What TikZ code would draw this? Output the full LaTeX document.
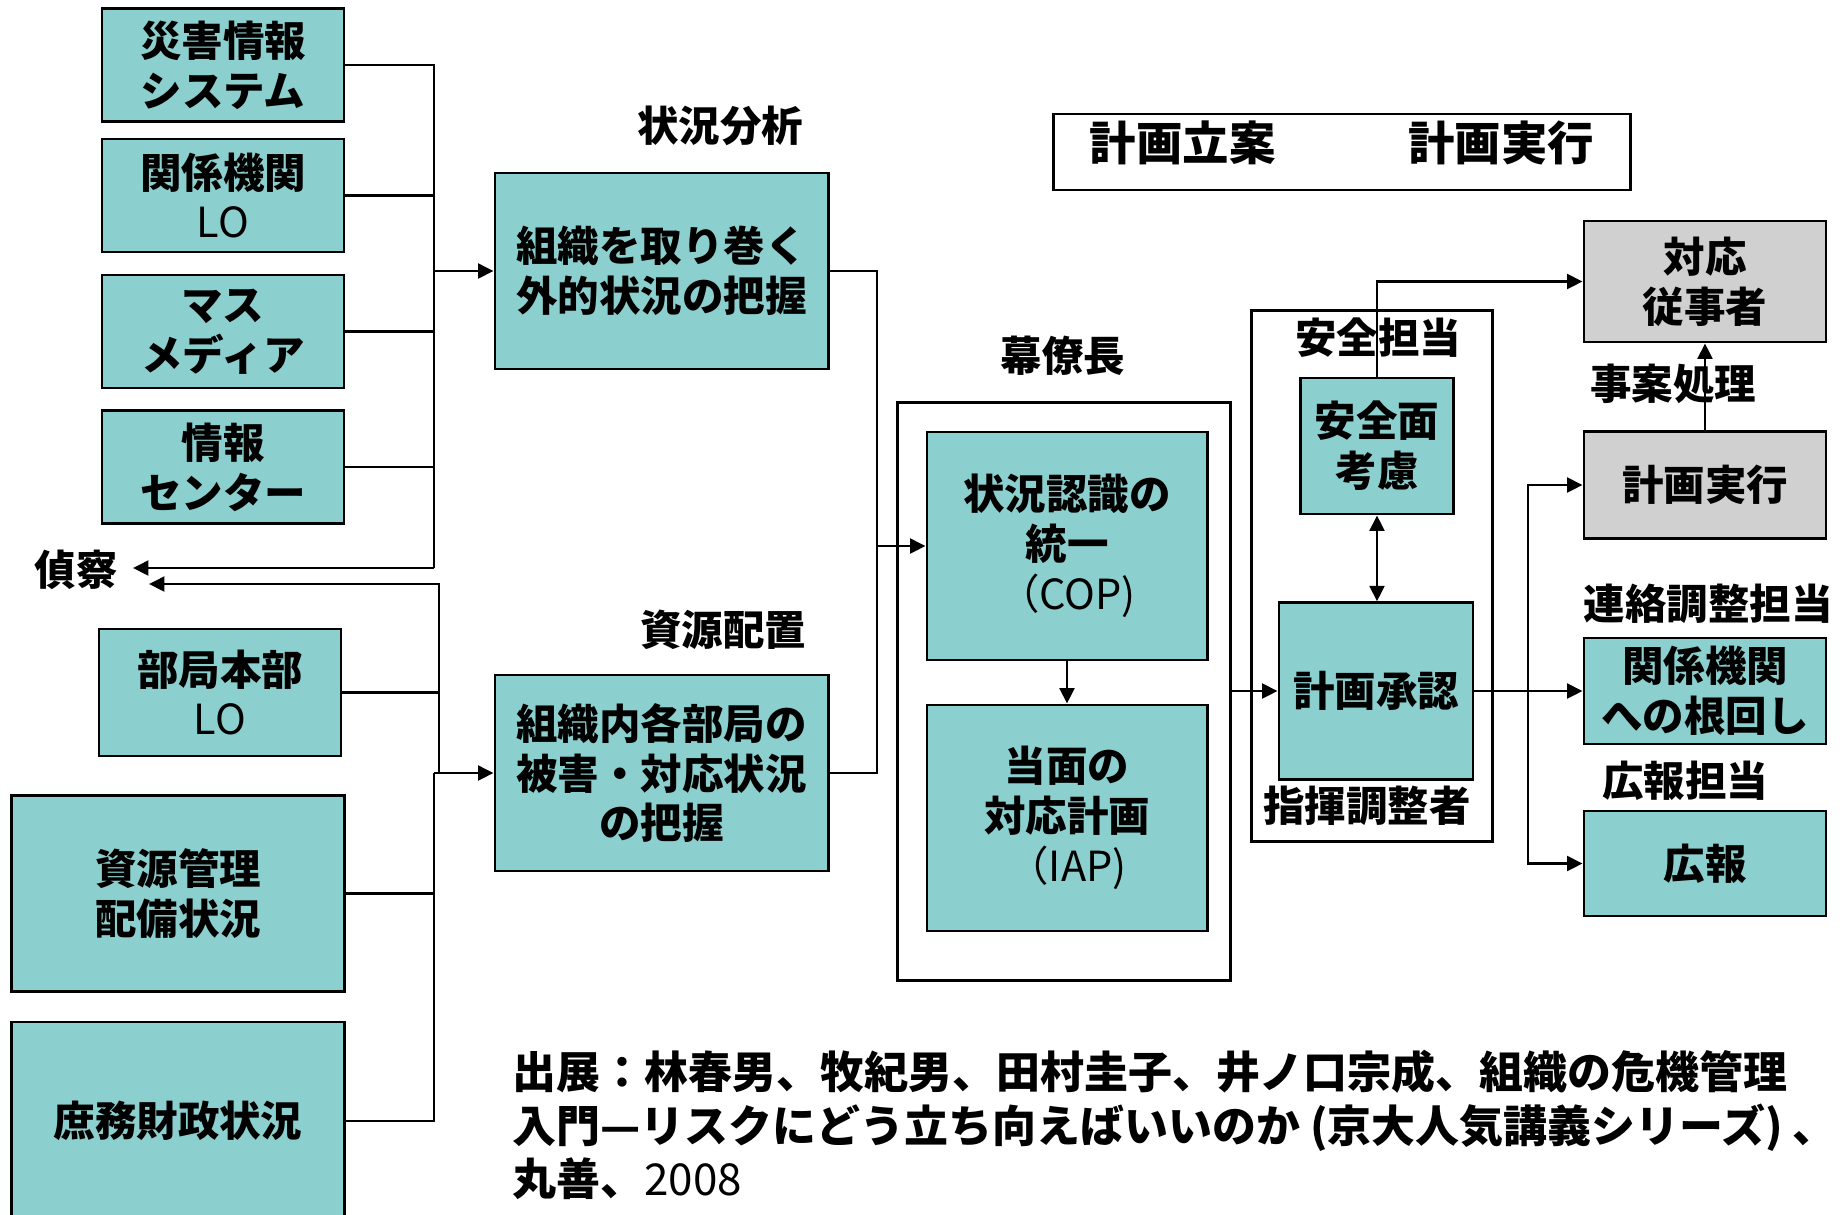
\documentclass[tikz,border=0pt]{standalone}
\usepackage{fontspec}
\setmainfont{Noto Sans CJK JP}
\usepackage{tikz}
\usetikzlibrary{arrows.meta}
\definecolor{tealbox}{RGB}{139,207,206}
\definecolor{graybox}{RGB}{208,208,208}
\tikzstyle{box} = [draw, line width=0.8pt, fill=tealbox, align=center, inner sep=0pt, font=\bfseries\fontsize{11.8}{14.2}\selectfont]
\tikzstyle{gbox} = [box, fill=graybox]
\tikzstyle{frame} = [draw, line width=0.8pt, inner sep=0pt]
\tikzstyle{lbl} = [font=\bfseries\fontsize{11.8}{14.2}\selectfont]
\tikzstyle{line} = [line width=0.8pt]
\tikzstyle{arrow} = [line width=0.8pt,->,>={Triangle[length=4.4pt,width=4.2pt]}]

\begin{document}
\begin{tikzpicture}[x=0.01cm, y=-0.01cm]
\useasboundingbox (0,0) rectangle (1845,1214);
% outer frames first
\node[frame, minimum width=3.33cm, minimum height=5.77cm] (bakuryo) at (1064,691.5) {};
\node[frame, minimum width=2.41cm, minimum height=5.30cm] (anzenwaku) at (1372,576) {};
\node[frame, minimum width=5.76cm, minimum height=0.76cm, font=\bfseries\fontsize{13.2}{15}\selectfont] (plan) at (1342,152) {\raisebox{0.09cm}[\height][\depth]{計画立案\hspace{1.33cm}計画実行}};
% sources
\node[box, minimum width=2.42cm, minimum height=1.13cm] (sys) at (223,65) {災害情報\\システム};
\node[box, minimum width=2.42cm, minimum height=1.13cm] (kankei) at (223,195.5) {関係機関\\\mdseries LO};
\node[box, minimum width=2.42cm, minimum height=1.13cm] (media) at (223,331.5) {マス\\メディア};
\node[box, minimum width=2.42cm, minimum height=1.13cm] (joho) at (223,467) {情報\\センター};
\node[lbl] (teisatsu) at (76,570) {偵察};
\node[box, minimum width=2.42cm, minimum height=1.27cm] (bukyoku) at (220,692.5) {部局本部\\\mdseries LO};
\node[box, minimum width=3.33cm, minimum height=1.96cm] (shigen) at (178,893.6) {資源管理\\配備状況};
\node[box, minimum width=3.33cm, minimum height=1.98cm] (shomu) at (178,1121) {庶務財政状況};
% analysis
\node[lbl] (bunseki) at (720,126) {状況分析};
\node[box, minimum width=3.33cm, minimum height=1.96cm] (gaiteki) at (661.5,271) {組織を取り巻く\\外的状況の把握};
\node[lbl] (haichi) at (723,630) {資源配置};
\node[box, minimum width=3.33cm, minimum height=1.96cm] (naibu) at (661.5,773) {組織内各部局の\\被害・対応状況\\の把握};
% staff
\node[lbl] (bakuchou) at (1063,356) {幕僚長};
\node[box, minimum width=2.80cm, minimum height=2.28cm] (cop) at (1067,546) {状況認識の\\統一\\\mdseries （COP)};
\node[box, minimum width=2.80cm, minimum height=2.26cm] (iap) at (1067,818) {当面の\\対応計画\\\mdseries （IAP)};
\node[lbl] (anzentanto) at (1378,338) {安全担当};
\node[box, minimum width=1.53cm, minimum height=1.36cm] (anzen) at (1377,446) {安全面\\考慮};
\node[box, minimum width=1.94cm, minimum height=1.765cm] (shonin) at (1376,691) {計画承認};
\node[lbl] (shiki) at (1367,806) {指揮調整者};
% execution
\node[gbox, minimum width=2.42cm, minimum height=1.21cm] (juji) at (1705,281.5) {対応\\従事者};
\node[lbl] (jian) at (1673,384) {事案処理};
\node[gbox, minimum width=2.42cm, minimum height=1.065cm] (jikko) at (1705,485) {計画実行};
\node[lbl] (renraku) at (1708,604) {連絡調整担当};
\node[box, minimum width=2.42cm, minimum height=1.06cm] (nemawashi) at (1705,691) {関係機関\\への根回し};
\node[lbl] (kohotanto) at (1685,781) {広報担当};
\node[box, minimum width=2.42cm, minimum height=1.05cm] (koho) at (1705,863.5) {広報};
% citation
\node[anchor=west, align=left, inner sep=0pt, font=\bfseries\fontsize{12.5}{15.3}\selectfont] (src) at (512,1125) {出展：林春男、牧紀男、田村圭子、井ノ口宗成、組織の危機管理\\入門—リスクにどう立ち向えばいいのか (京大人気講義シリーズ) 、\\丸善、\mdseries 2008};

% left buses
\coordinate (b1) at (434,568);
\coordinate (t1) at (133,568);
\draw[line] (sys.east) -| (b1);
\draw[line] (kankei.east) -- (kankei.east -| b1);
\draw[line] (media.east) -- (media.east -| b1);
\draw[line] (joho.east) -- (joho.east -| b1);
\draw[arrow] (b1) -- (t1);
\draw[arrow] (gaiteki.west -| b1) -- (gaiteki.west);
\coordinate (b2) at (439,584);
\coordinate (t2) at (149,584);
\coordinate (b3) at (434,773);
\draw[arrow] (b2 |- naibu.west) -- (b2) -- (t2);
\draw[line] (bukyoku.east) -- (bukyoku.east -| b2);
\draw[line] (shomu.east) -| (b3);
\draw[line] (shigen.east) -- (shigen.east -| b3);
\draw[arrow] (b3) -- (naibu.west);
% into staff
\coordinate (c1) at (877,773);
\draw[line] (gaiteki.east) -| (c1) -- (naibu.east);
\draw[arrow] (cop.west -| c1) -- (cop.west);
\draw[arrow] (cop) -- (iap);
\draw[arrow] (bakuryo.east |- shonin.west) -- (shonin.west);
\draw[arrow,<->] (anzen.south) -- (anzen.south |- shonin.north);
\draw[arrow] (anzen.north) |- (juji.west);
\draw[arrow] (jikko) -- (juji);
\draw[arrow] (shonin) -- (nemawashi);
\coordinate (r1) at (1528,691);
\draw[arrow] (r1) |- (jikko.west);
\draw[arrow] (r1) |- (koho.west);
\end{tikzpicture}
\end{document}
